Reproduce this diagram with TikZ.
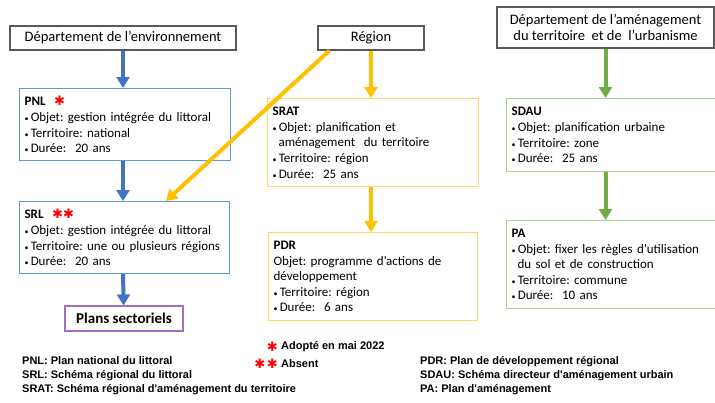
\documentclass[tikz,border=0pt]{standalone}
\usepackage{fontspec}
\setmainfont{Carlito}
\newfontfamily\legfont{Liberation Sans}
\newfontfamily\symfont{DejaVu Sans}
\usetikzlibrary{arrows.meta,positioning}

\definecolor{gristitre}{RGB}{89,89,89}
\definecolor{bleu}{RGB}{68,114,196}
\definecolor{bleuclair}{RGB}{91,155,213}
\definecolor{jaune}{RGB}{255,192,0}
\definecolor{jauneclair}{RGB}{255,217,102}
\definecolor{vert}{RGB}{112,173,71}
\definecolor{vertclair}{RGB}{169,209,142}
\definecolor{violet}{RGB}{160,110,200}

\newcommand{\puce}{{\footnotesize\textbullet}\,}
\newcommand{\etoile}{{\symfont\fontsize{13}{13}\selectfont\color{red}\char"2731}}

\tikzset{
  dept/.style={draw=gristitre, line width=1.2pt, fill=white, inner sep=3pt,
    font=\fontsize{14.5}{16}\selectfont, minimum height=24pt},
  plan/.style={draw=#1, line width=1.2pt, fill=white, anchor=north west,
    align=left, inner xsep=5pt, font=\fontsize{13}{15.6}\selectfont},
  fleche/.style={draw=#1, line width=4pt, -{Triangle[width=13pt,length=11pt]}},
  legende/.style={font=\legfont\bfseries\fontsize{11}{14}\selectfont, inner sep=0pt},
}

\begin{document}
\frenchspacing
\begin{tikzpicture}[x=1pt,y=-1pt]
\useasboundingbox (0,0) rectangle (715,402);

% en-tetes
\node[dept, minimum width=226pt] (env) at (123,38) {Département de l’environnement};
\node[dept, minimum width=106pt] (reg) at (371,38) {Région};
\node[dept, minimum width=217pt, minimum height=41pt, align=center] (amg) at (605.5,27.5)
  {Département de l’aménagement\\du territoire\ \ et de\ \ l’urbanisme};

% plans
\node[plan=bleuclair, text width=201pt, minimum height=72pt] (pnl) at (19,88)
  {\textbf{PNL}\ \ \etoile\\
   \puce Objet: gestion intégrée du littoral\\
   \puce Territoire: national\\
   \puce Durée:\ \ 20 ans};
\node[plan=bleuclair, text width=200pt, minimum height=72pt] (srl) at (19,201)
  {\textbf{SRL}\ \ \etoile\etoile\\
   \puce Objet: gestion intégrée du littoral\\
   \puce Territoire: une ou plusieurs régions\\
   \puce Durée:\ \ 20 ans};
\node[draw=violet, line width=1.2pt, minimum width=118pt, minimum height=25pt,
  font=\fontsize{15}{16}\selectfont\bfseries] (ps) at (124,318.5) {Plans sectoriels};

\node[plan=jauneclair, text width=201pt, minimum height=88pt] (srat) at (267,98)
  {\textbf{SRAT}\\
   \puce Objet: planification et\\
   \hspace*{6pt}aménagement\ \ du territoire\\
   \puce Territoire: région\\
   \puce Durée:\ \ 25 ans};
\node[plan=jauneclair, text width=199pt, minimum height=88pt] (pdr) at (268,232)
  {\textbf{PDR}\\
   Objet: programme d’actions de\\
   développement\\
   \puce Territoire: région\\
   \puce Durée:\ \ 6 ans};

\node[plan=vertclair, text width=199pt, minimum height=73pt] (sdau) at (506,98)
  {\textbf{SDAU}\\
   \puce Objet: planification urbaine\\
   \puce Territoire: zone\\
   \puce Durée:\ \ 25 ans};
\node[plan=vertclair, text width=199pt, minimum height=88pt] (pa) at (506,220)
  {\textbf{PA}\\
   \puce Objet: fixer les règles d’utilisation\\
   \hspace*{6pt}du sol et de construction\\
   \puce Territoire: commune\\
   \puce Durée:\ \ 10 ans};

% fleches
\draw[fleche=bleu] (env) -- (pnl.north -| env);
\draw[fleche=bleu] (pnl.south -| env) -- (srl.north -| env);
\draw[fleche=bleu] (srl.south -| env) -- (ps);
\draw[fleche=jaune] (reg) -- (srat.north -| reg);
\draw[fleche=jaune] ([xshift=12pt]reg.south west) -- ([xshift=147pt]srl.north west);
\draw[fleche=jaune] (srat.south -| reg) -- (pdr.north -| reg);
\draw[fleche=vert] (amg) -- (sdau.north -| amg);
\draw[fleche=vert] (sdau.south -| amg) -- (pa.north -| amg);

% legende
\node[legende, anchor=west] (adopte) at (281,347) {Adopté en mai 2022};
\node[left=3pt of adopte, inner sep=0pt] (e1) {\etoile};
\node[legende, anchor=west] (absent) at (281,364) {Absent};
\node[left=3pt of absent, inner sep=0pt] (e2) {\etoile\,\etoile};

\node[legende, anchor=north west, align=left] (sigles1) at (22,356)
  {PNL: Plan national du littoral\\
   SRL: Schéma régional du littoral\\
   SRAT: Schéma régional d'aménagement du territoire};
\node[legende, anchor=north west, align=left] (sigles2) at (420,356)
  {PDR: Plan de développement régional\\
   SDAU: Schéma directeur d'aménagement urbain\\
   PA: Plan d'aménagement};
\end{tikzpicture}
\end{document}
